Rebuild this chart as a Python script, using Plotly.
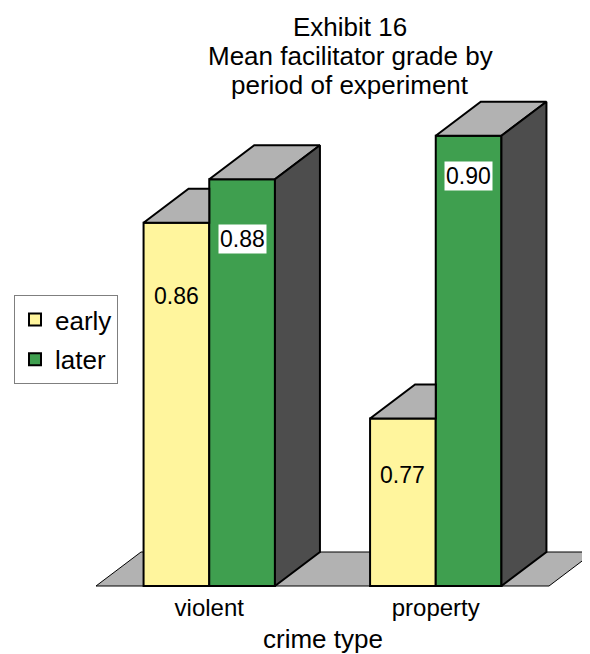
import plotly.graph_objects as go

# ---------------- data ----------------
categories = ["violent", "property"]
series_names = ["early", "later"]
early = [0.86, 0.77]
later = [0.88, 0.90]
early_labels = ["0.86", "0.77"]
later_labels = ["0.88", "0.90"]
title_lines = ["Exhibit 16", "Mean facilitator grade by", "period of experiment"]
x_title = "crime type"

# ---------------- style / geometry (figure pixels) ----------------
W, H = 582, 646            # page adds an 8px body margin
AXIS_LEFT_PX, AXIS_RIGHT_PX = 88, 541
PLOT_TOP_PX, PLOT_BOTTOM_PX = 92, 581
FLOOR_PX = 578
FLOOR = 0.693            # value at chart floor (axis minimum)
PX_PER_UNIT = 2175       # vertical pixels per value unit
BAR_W = 0.29
DEPTH_PX = (45, 34)
EARLY_COLOR = "#FFF59D"
LATER_COLOR = "#3F9F4F"
TOP_COLOR = "#B2B2B2"
SIDE_COLOR = "#4D4D4D"
FLOOR_COLOR = "#B2B2B2"
FONT = "Liberation Sans, Arial, sans-serif"
early_label_drop = [73, 56]
later_label_drop = [60, 40]
TITLE_X_PX = 342
TITLE_LINE_Y_PX = [19, 48, 77]     # vertical centres of the title lines
XTITLE_Y_PX = 631

n = len(categories)
xs = list(range(n))
x_unit = (AXIS_RIGHT_PX - AXIS_LEFT_PX) / n
x_range = [-0.5 - AXIS_LEFT_PX / x_unit, -0.5 + (W - AXIS_LEFT_PX) / x_unit]
y_range = [FLOOR - (PLOT_BOTTOM_PX - FLOOR_PX) / PX_PER_UNIT,
           FLOOR + (FLOOR_PX - PLOT_TOP_PX) / PX_PER_UNIT]
dx = DEPTH_PX[0] / x_unit
dy = DEPTH_PX[1] / PX_PER_UNIT
plot_h = PLOT_BOTTOM_PX - PLOT_TOP_PX


def paper_y(px):
    return (PLOT_BOTTOM_PX - px) / plot_h


fig = go.Figure()

# front faces (bars)
fig.add_trace(go.Bar(
    x=xs, y=[v - FLOOR for v in early], base=FLOOR, width=BAR_W, offset=-BAR_W,
    name=series_names[0], legendgroup=series_names[0],
    marker=dict(color=EARLY_COLOR, line=dict(color="black", width=2)),
    hoverinfo="skip"))
fig.add_trace(go.Bar(
    x=xs, y=[v - FLOOR for v in later], base=FLOOR, width=BAR_W, offset=0,
    name=series_names[1], legendgroup=series_names[1],
    marker=dict(color=LATER_COLOR, line=dict(color="black", width=2)),
    hoverinfo="skip"))


def face(px, py, color):
    fig.add_trace(go.Scatter(
        x=px + [px[0]], y=py + [py[0]], mode="lines", fill="toself",
        fillcolor=color, line=dict(color="black", width=2),
        hoverinfo="skip", showlegend=False))


for i in xs:
    x0, xm, x1 = i - BAR_W, i, i + BAR_W
    e, l = early[i], later[i]
    # visible part of the early bar's top (later bar stands in front of its right part)
    face([x0, xm, xm, x0 + dx], [e, e, e + dy, e + dy], TOP_COLOR)
    # later bar top and right side
    face([xm, x1, x1 + dx, xm + dx], [l, l, l + dy, l + dy], TOP_COLOR)
    face([x1, x1 + dx, x1 + dx, x1], [FLOOR, FLOOR + dy, l + dy, l], SIDE_COLOR)

# floor (below the bars)
fx0, fx1 = -0.5, n - 0.5
floor_path = (f"M{fx0},{FLOOR} L{fx1},{FLOOR} L{fx1 + dx},{FLOOR + dy} "
              f"L{fx0 + dx},{FLOOR + dy} Z")
shapes = [dict(type="path", path=floor_path, xref="x", yref="y", layer="below",
               fillcolor=FLOOR_COLOR, line=dict(color="black", width=1))]

annotations = []
for i in xs:
    annotations.append(dict(x=i - BAR_W / 2, y=early[i], xref="x", yref="y",
                            text=early_labels[i], showarrow=False,
                            yshift=-early_label_drop[i],
                            font=dict(size=23, color="black", family=FONT)))
    annotations.append(dict(x=i + BAR_W / 2, y=later[i], xref="x", yref="y",
                            text=later_labels[i], showarrow=False,
                            yshift=-later_label_drop[i], bgcolor="white", borderpad=1,
                            font=dict(size=23, color="black", family=FONT)))

# chart title (three centred lines)
for line, ypx in zip(title_lines, TITLE_LINE_Y_PX):
    annotations.append(dict(x=TITLE_X_PX / W, y=paper_y(ypx), xref="paper", yref="paper",
                            text=line, showarrow=False, xanchor="center", yanchor="middle",
                            font=dict(size=26, color="black", family=FONT)))

# category-axis title
annotations.append(dict(x=(n - 1) / 2, y=paper_y(XTITLE_Y_PX), xref="x", yref="paper",
                        text=x_title, showarrow=False, xanchor="center", yanchor="middle",
                        font=dict(size=26, color="black", family=FONT)))

fig.update_layout(
    width=W, height=H,
    margin=dict(l=0, r=0, t=PLOT_TOP_PX, b=H - PLOT_BOTTOM_PX),
    paper_bgcolor="white", plot_bgcolor="white",
    font=dict(family=FONT, color="black"),
    barmode="overlay",
    showlegend=True,
    legend=dict(x=6 / W, xanchor="left", y=paper_y(287), yanchor="top",
                bgcolor="white", bordercolor="#7F7F7F", borderwidth=1,
                font=dict(size=26, family=FONT, color="black"),
                traceorder="grouped", tracegroupgap=3),
    xaxis=dict(domain=[0, 1], range=x_range, tickmode="array", tickvals=xs,
               ticktext=categories, ticks="", showline=False, showgrid=False,
               zeroline=False, tickfont=dict(size=24, family=FONT, color="black"),
               ticklabelstandoff=2, fixedrange=True),
    xaxis2=dict(domain=[AXIS_LEFT_PX / W, AXIS_RIGHT_PX / W], anchor="y",
                range=[-0.5, n - 0.5], tickmode="array",
                tickvals=[k - 0.5 for k in range(n + 1)], ticks="outside", ticklen=6,
                tickcolor="#303030", tickwidth=1, showline=True, linecolor="#404040",
                linewidth=1, showticklabels=False, showgrid=False, zeroline=False,
                fixedrange=True),
    yaxis=dict(range=y_range, visible=False, showgrid=False, zeroline=False,
               fixedrange=True),
    shapes=shapes,
    annotations=annotations,
)

fig.write_html("out.html")
